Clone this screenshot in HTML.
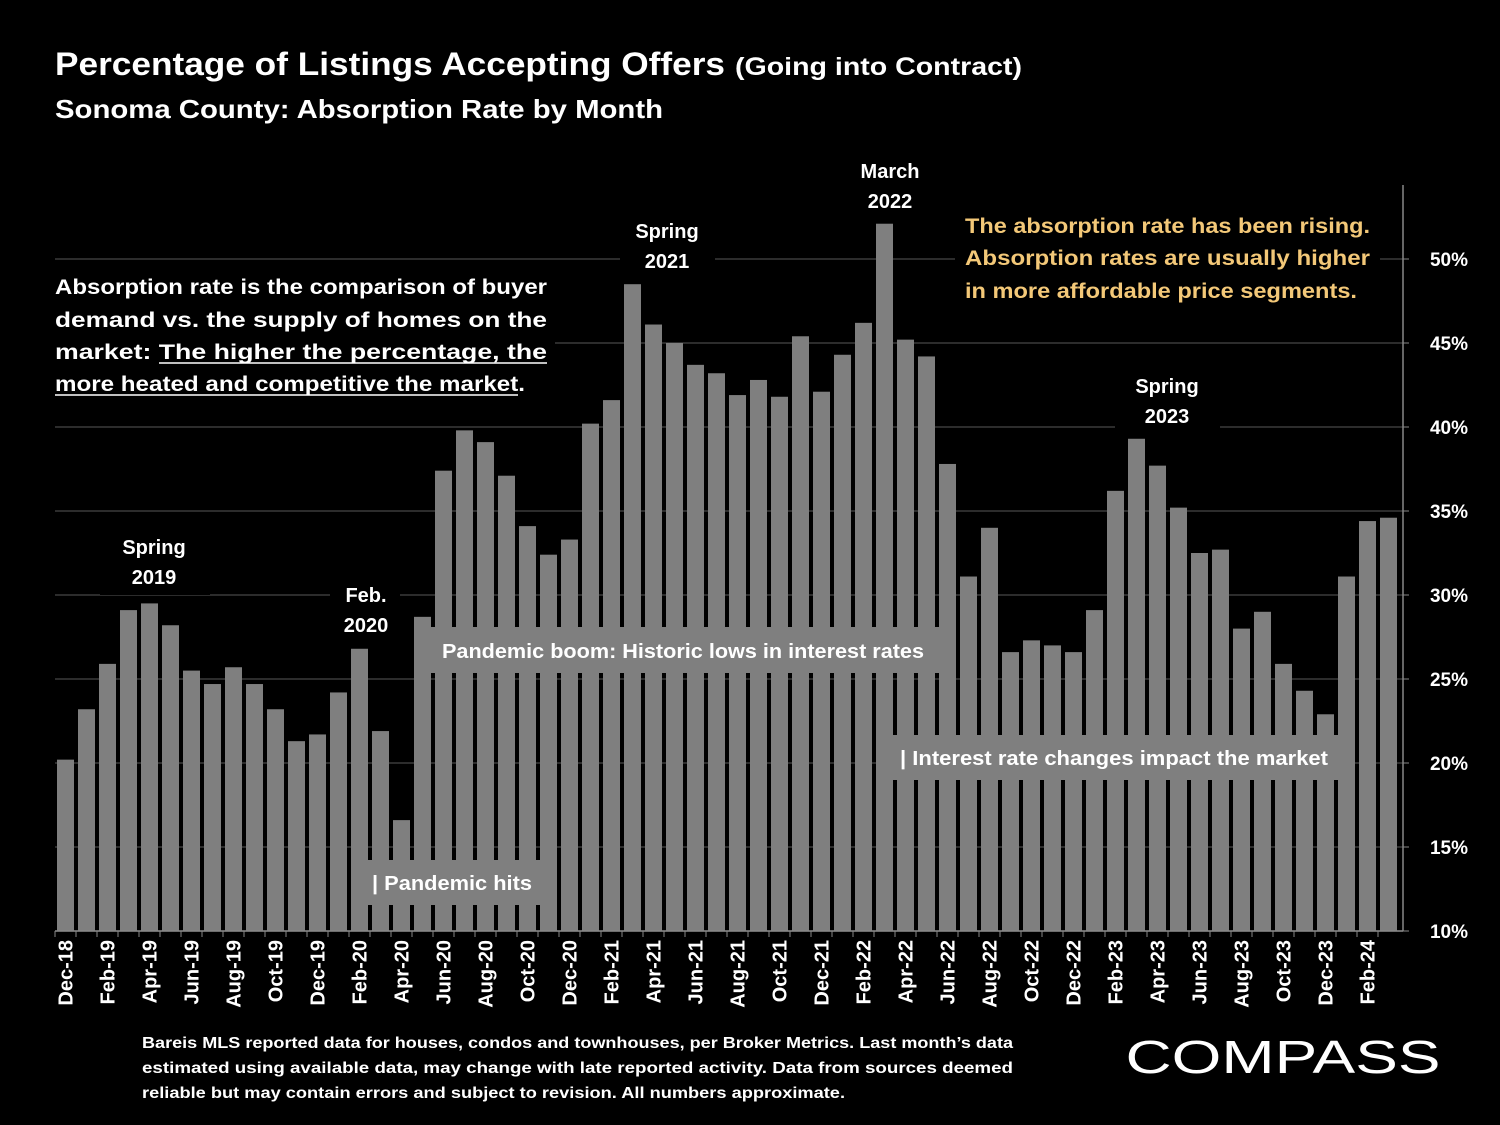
<!DOCTYPE html>
<html><head><meta charset="utf-8"><style>
body{margin:0;background:#000;width:1500px;height:1125px;overflow:hidden;font-family:"Liberation Sans",sans-serif;color:#fff}
svg{position:absolute;left:0;top:0}
</style></head><body>
<svg width="1500" height="1125" id="chart" font-family="Liberation Sans, sans-serif">
<text x="55" y="75" font-size="32" font-weight="bold" fill="#fff" textLength="670" lengthAdjust="spacingAndGlyphs">Percentage of Listings Accepting Offers</text>
<text x="735" y="75" font-size="25" font-weight="bold" fill="#fff" textLength="287" lengthAdjust="spacingAndGlyphs">(Going into Contract)</text>
<text x="55" y="118" font-size="26" font-weight="bold" fill="#fff" textLength="608" lengthAdjust="spacingAndGlyphs">Sonoma County:  Absorption Rate by Month</text>
<g id="grid"></g><g id="bars"></g><g id="axes"></g><g id="ann"></g>
</svg>
<script>
const months=["Dec-18","Jan-19","Feb-19","Mar-19","Apr-19","May-19","Jun-19","Jul-19","Aug-19","Sep-19","Oct-19","Nov-19","Dec-19","Jan-20","Feb-20","Mar-20","Apr-20","May-20","Jun-20","Jul-20","Aug-20","Sep-20","Oct-20","Nov-20","Dec-20","Jan-21","Feb-21","Mar-21","Apr-21","May-21","Jun-21","Jul-21","Aug-21","Sep-21","Oct-21","Nov-21","Dec-21","Jan-22","Feb-22","Mar-22","Apr-22","May-22","Jun-22","Jul-22","Aug-22","Sep-22","Oct-22","Nov-22","Dec-22","Jan-23","Feb-23","Mar-23","Apr-23","May-23","Jun-23","Jul-23","Aug-23","Sep-23","Oct-23","Nov-23","Dec-23","Jan-24","Feb-24","Mar-24"];
const rates=[20.2,23.2,25.9,29.1,29.5,28.2,25.5,24.7,25.7,24.7,23.2,21.3,21.7,24.2,26.8,21.9,16.6,28.7,37.4,39.8,39.1,37.1,34.1,32.4,33.3,40.2,41.6,48.5,46.1,45.0,43.7,43.2,41.9,42.8,41.8,45.4,42.1,44.3,46.2,52.1,45.2,44.2,37.8,31.1,34.0,26.6,27.3,27.0,26.6,29.1,36.2,39.3,37.7,35.2,32.5,32.7,28.0,29.0,25.9,24.3,22.9,31.1,34.4,34.6];
const yTicks=[10,15,20,25,30,35,40,45,50];
const NS="http://www.w3.org/2000/svg";
function mk(t,a,p){const e=document.createElementNS(NS,t);for(const k in a)e.setAttribute(k,a[k]);p.appendChild(e);return e;}
const X0=55,STEP=21.0,BW=17,Y0=931;
function xs(i){return X0+i*STEP;}
function ys(v){return Y0-(v-10)*16.8;}
const grid=document.getElementById('grid'),bars=document.getElementById('bars'),axes=document.getElementById('axes'),ann=document.getElementById('ann');
yTicks.forEach(v=>{
 const l=mk('line',{x1:55,x2:1403,y1:ys(v),y2:ys(v),stroke:'#3a3a3a','stroke-width':1.5},grid);
 
 
 const t=mk('text',{x:1468,y:ys(v)+7,'font-size':19,'font-weight':'bold',fill:'#fff','text-anchor':'end'},axes);
 t.textContent=v+'%';
 
 
 mk('line',{x1:1403,x2:1409,y1:ys(v),y2:ys(v),stroke:'#888'},axes);
});
rates.forEach((v,i)=>{
 const r=mk('rect',{x:xs(i)+2,y:ys(v),width:BW,height:Y0-ys(v),fill:'#7f7f7f'},bars);
 
 
 mk('line',{x1:xs(i),x2:xs(i),y1:Y0,y2:Y0+6,stroke:'#888'},axes);
 if(i%2===0){
  const cx=xs(i)+2+BW/2+7;
  const t=mk('text',{x:cx,y:940,'font-size':20,'font-weight':'bold',fill:'#fff','text-anchor':'end',transform:`rotate(-90 ${cx} 940)`},axes);
  t.textContent=months[i];
  
  
 }
});
const ax=mk('line',{x1:55,x2:1403,y1:Y0,y2:Y0,stroke:'#888','stroke-width':1.5},axes);


const ay=mk('line',{x1:1403,x2:1403,y1:185,y2:Y0,stroke:'#888','stroke-width':1.5},axes);


function txt(s,x,y,sz,anchor,fill,name,len){const t=mk('text',{x:x,y:y,'font-size':sz,'font-weight':'bold',fill:fill||'#fff','text-anchor':anchor||'middle'},ann);if(len){t.setAttribute('textLength',len);t.setAttribute('lengthAdjust','spacingAndGlyphs');}t.textContent=s;return t;}
function box(x,y,w,h,fill,name){const r=mk('rect',{x:x,y:y,width:w,height:h,fill:fill},ann);}
box(100,530,110,65,'#000','spring-2019-bg');
txt('Spring',154,554,20,'middle','#fff','label-spring-2019');txt('2019',154,584,20,'middle','#fff','label-spring-2019-year');
box(330,580,70,60,'#000','feb-2020-bg');
txt('Feb.',366,602,20,'middle','#fff','label-feb-2020');txt('2020',366,632,20,'middle','#fff','label-feb-2020-year');
box(620,215,95,60,'#000','spring-2021-bg');
txt('Spring',667,238,20,'middle','#fff','label-spring-2021');txt('2021',667,268,20,'middle','#fff','label-spring-2021-year');
txt('March',890,178,20,'middle','#fff','label-march-2022');txt('2022',890,208,20,'middle','#fff','label-march-2022-year');
box(1115,370,105,60,'#000','spring-2023-bg');
txt('Spring',1167,393,20,'middle','#fff','label-spring-2023');txt('2023',1167,423,20,'middle','#fff','label-spring-2023-year');
box(418,627,522,46,'#7f7f7f','pandemic-boom-box');
txt('Pandemic boom: Historic lows in interest rates',683,658,20,'middle','#fff','pandemic-boom-label',482);
box(362,860,193,45,'#7f7f7f','pandemic-hits-box');
txt('| Pandemic hits',372,890,20,'start','#fff','pandemic-hits-label',160);
box(893,735,457,45,'#7f7f7f','interest-rate-box');
txt('| Interest rate changes impact the market',900,765,20,'start','#fff','interest-rate-label',428);
box(45,265,510,140,'#000','definition-bg');
const defs=[['Absorption rate is the comparison of buyer',294],['demand vs. the supply of homes on the',327],['market: The higher the percentage, the',359],['more heated and competitive the market.',391]];
defs.forEach((d,i)=>{txt(d[0],55,d[1],21,'start','#fff','definition-line',i<3?492:470);});
mk('line',{x1:159,x2:547,y1:363,y2:363,stroke:'#fff','stroke-width':1.5},ann);
mk('line',{x1:55,x2:518,y1:395,y2:395,stroke:'#fff','stroke-width':1.5},ann);
box(955,205,425,100,'#000','insight-bg');
txt('The absorption rate has been rising.',965,233,21,'start','#f3c878','insight-line-1',405);
txt('Absorption rates are usually higher',965,265,21,'start','#f3c878','insight-line-2',405);
txt('in more affordable price segments.',965,298,21,'start','#f3c878','insight-line-3',392);
txt('Bareis MLS reported data for houses, condos and townhouses, per Broker Metrics. Last month\u2019s data',142,1048,16,'start','#fff','footnote-1',871);
txt('estimated using available data, may change with late reported activity. Data from sources deemed',142,1073,16,'start','#fff','footnote-2',871);
txt('reliable but may contain errors and subject to revision. All numbers approximate.',142,1098,16,'start','#fff','footnote-3',703);
txt('COMPASS',1283,1073,46,'middle','#fff','compass-logo',315).setAttribute('font-weight','normal');
</script>
</body></html>
